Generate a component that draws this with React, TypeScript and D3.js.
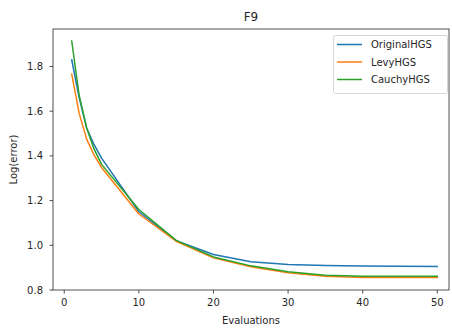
import React from "react";
import * as d3 from "d3";

const evaluations = [1, 2, 3, 4, 5, 10, 15, 20, 25, 30, 35, 40, 45, 50];
const originalHGS = [1.83, 1.66, 1.525, 1.45, 1.39, 1.15, 1.02, 0.959, 0.926, 0.914, 0.91, 0.907, 0.906, 0.905];
const levyHGS = [1.766, 1.59, 1.475, 1.403, 1.348, 1.14, 1.018, 0.944, 0.904, 0.877, 0.862, 0.856, 0.856, 0.856];
const cauchyHGS = [1.914, 1.67, 1.525, 1.43, 1.362, 1.16, 1.022, 0.948, 0.908, 0.882, 0.866, 0.862, 0.862, 0.862];
const seriesNames = ["OriginalHGS", "LevyHGS", "CauchyHGS"];
const colors = ["#1f77b4", "#ff7f0e", "#2ca02c"];
const xTicks = [0, 10, 20, 30, 40, 50];
const yTicks = [0.8, 1.0, 1.2, 1.4, 1.6, 1.8];

export default function App() {
  const W = 452, H = 329;
  const left = 53, right = 449, top = 29, bottom = 290;
  const x = d3.scaleLinear().domain([-1.51, 51.57]).range([left, right]);
  const y = d3.scaleLinear().domain([0.8, 1.9676]).range([bottom, top]);
  const series = [originalHGS, levyHGS, cauchyHGS];
  const line = d3
    .line<number>()
    .x((_, i) => x(evaluations[i]))
    .y((d) => y(d));
  const font = "DejaVu Sans, sans-serif";
  const tc = "#262626";
  return (
    <svg width={W} height={H} style={{ position: "absolute", left: 0, top: 0 }} fontFamily={font}>
      <rect width={W} height={H} fill="#fff" />
      <text x={(left + right) / 2} y={21} textAnchor="middle" fontSize={12} fill={tc}>F9</text>
      {series.map((s, k) => (
        <path key={k} d={line(s) || ""} fill="none" stroke={colors[k]} strokeWidth={1.5} strokeLinejoin="round" strokeLinecap="square" />
      ))}
      <rect x={left} y={top} width={right - left} height={bottom - top} fill="none" stroke={tc} strokeWidth={0.8} />
      {xTicks.map((t) => (
        <g key={t}>
          <line x1={x(t)} x2={x(t)} y1={bottom} y2={bottom + 3.5} stroke={tc} strokeWidth={0.8} />
          <text x={x(t)} y={bottom + 16} textAnchor="middle" fontSize={10} fill={tc}>{t}</text>
        </g>
      ))}
      {yTicks.map((t) => (
        <g key={t}>
          <line x1={left - 3.5} x2={left} y1={y(t)} y2={y(t)} stroke={tc} strokeWidth={0.8} />
          <text x={left - 10} y={y(t) + 3.5} textAnchor="end" fontSize={10} fill={tc}>{t.toFixed(1)}</text>
        </g>
      ))}
      <text x={(left + right) / 2} y={324} textAnchor="middle" fontSize={10} fill={tc}>Evaluations</text>
      <text transform={`translate(17,${(top + bottom) / 2}) rotate(-90)`} textAnchor="middle" fontSize={10} fill={tc}>Log(error)</text>
      <rect x={333.5} y={35.5} width={114} height={58} rx={2} fill="#fff" fillOpacity={0.8} stroke="#ccc" strokeWidth={0.8} />
      {seriesNames.map((n, k) => (
        <g key={n}>
          <line x1={337} x2={362} y1={44.5 + k * 17.5} y2={44.5 + k * 17.5} stroke={colors[k]} strokeWidth={1.5} />
          <text x={371} y={44.5 + k * 17.5 + 3.5} fontSize={10} fill={tc}>{n}</text>
        </g>
      ))}
    </svg>
  );
}
